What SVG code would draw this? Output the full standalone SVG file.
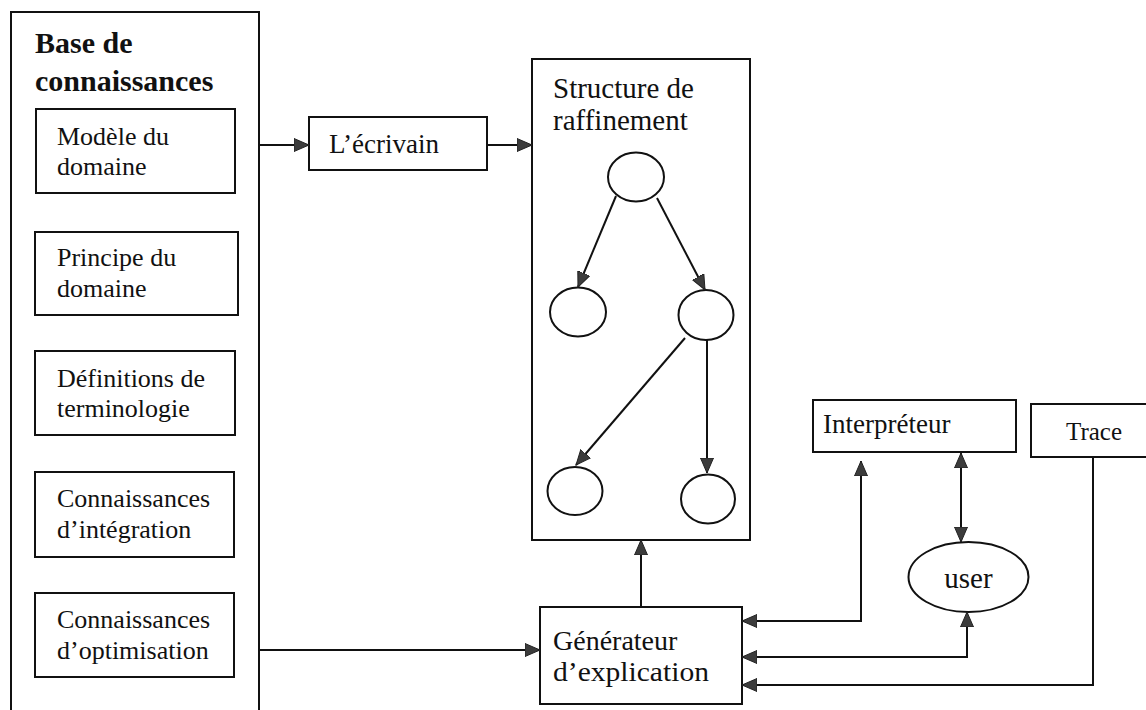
<svg xmlns="http://www.w3.org/2000/svg" width="1146" height="710" viewBox="0 0 1146 710">
  <style>
    .box { fill: #fff; stroke: #111; stroke-width: 2; }
    .node { fill: #fff; stroke: #111; stroke-width: 2; }
    .t { font-family: "Liberation Serif", "Times New Roman", serif; fill: #111; }
    .title { font-size: 30px; font-weight: bold; }
    .s26 { font-size: 26px; }
    .s27 { font-size: 27px; }
    .s28 { font-size: 28px; }
    .s29 { font-size: 29px; }
    .edge { fill: none; stroke: #111; stroke-width: 2; marker-end: url(#arrow); }
    .both { marker-start: url(#arrow); }
  </style>
  <defs>
    <marker id="arrow" markerUnits="userSpaceOnUse" markerWidth="16" markerHeight="14" refX="15" refY="7" orient="auto-start-reverse">
      <path d="M0,0.5 L15,7 L0,13.5 z" fill="#3c3c3c" stroke="#222" stroke-width="1"/>
    </marker>
  </defs>
  <rect width="1146" height="710" fill="#fff"/>

  <!-- knowledge base container -->
  <g id="base-connaissances">
    <rect class="box" x="11" y="12" width="248" height="720"/>
    <text class="t title" x="35" y="53">Base de</text>
    <text class="t title" x="35" y="91">connaissances</text>
  </g>
  <g id="modele-domaine">
    <rect class="box" x="36" y="109" width="199" height="84"/>
    <text class="t s26" x="57" y="145">Modèle du</text>
    <text class="t s26" x="57" y="175">domaine</text>
  </g>
  <g id="principe-domaine">
    <rect class="box" x="35" y="232" width="203" height="83"/>
    <text class="t s26" x="57" y="266">Principe du</text>
    <text class="t s26" x="57" y="297">domaine</text>
  </g>
  <g id="definitions-terminologie">
    <rect class="box" x="35" y="351" width="200" height="84"/>
    <text class="t s26" x="57" y="387">Définitions de</text>
    <text class="t s26" x="57" y="417">terminologie</text>
  </g>
  <g id="connaissances-integration">
    <rect class="box" x="35" y="472" width="199" height="85"/>
    <text class="t s26" x="57" y="507">Connaissances</text>
    <text class="t s26" x="57" y="538">d’intégration</text>
  </g>
  <g id="connaissances-optimisation">
    <rect class="box" x="35" y="593" width="199" height="84"/>
    <text class="t s26" x="57" y="628">Connaissances</text>
    <text class="t s26" x="57" y="659">d’optimisation</text>
  </g>

  <g id="ecrivain">
    <rect class="box" x="309" y="117" width="178" height="53"/>
    <text class="t s27" x="329" y="153">L’écrivain</text>
  </g>

  <!-- refinement structure with its tree -->
  <g id="structure-raffinement">
    <rect class="box" x="532" y="59" width="218" height="481"/>
    <text class="t s29" x="553" y="98">Structure de</text>
    <text class="t s29" x="553" y="130">raffinement</text>
  </g>
  <g id="n-root"><ellipse class="node" cx="636" cy="177" rx="28" ry="24.5"/></g>
  <g id="n-left"><ellipse class="node" cx="578" cy="312" rx="28" ry="24.5"/></g>
  <g id="n-right"><ellipse class="node" cx="706" cy="315" rx="27.5" ry="25"/></g>
  <g id="n-bottom-left"><ellipse class="node" cx="575" cy="491" rx="27.5" ry="24"/></g>
  <g id="n-bottom-right"><ellipse class="node" cx="708" cy="499" rx="27" ry="24.5"/></g>

  <g id="generateur">
    <rect class="box" x="540" y="607" width="202" height="97"/>
    <text class="t s28" x="553" y="650">Générateur</text>
    <text class="t s28" x="553" y="681" textLength="156" lengthAdjust="spacingAndGlyphs">d’explication</text>
  </g>

  <g id="interpreteur">
    <rect class="box" x="813" y="400" width="203" height="52"/>
    <text class="t s27" x="823" y="433">Interpréteur</text>
  </g>
  <g id="trace">
    <rect class="box" x="1031" y="404" width="120" height="53"/>
    <text class="t" x="1066" y="440" font-size="25">Trace</text>
  </g>
  <g id="user">
    <ellipse class="node" cx="968.5" cy="577" rx="60" ry="35"/>
    <text class="t s29" x="968.5" y="588" text-anchor="middle">user</text>
  </g>

  <g id="connectors">
    <path class="edge" d="M259,145 H309"/>
    <path class="edge" d="M487,145 H532"/>
    <path class="edge" d="M616,196 L578,287"/>
    <path class="edge" d="M657,198 L705,290"/>
    <path class="edge" d="M685,338 L576,465"/>
    <path class="edge" d="M707,340 V473"/>
    <path class="edge" d="M259,650 H540"/>
    <path class="edge" d="M641,607 V540"/>
    <path class="edge both" d="M742,621 H861 V461"/>
    <path class="edge both" d="M961,453 V542"/>
    <path class="edge both" d="M742,657 H967 V612"/>
    <path class="edge" d="M1093,457 V685 H742"/>
  </g>
</svg>
